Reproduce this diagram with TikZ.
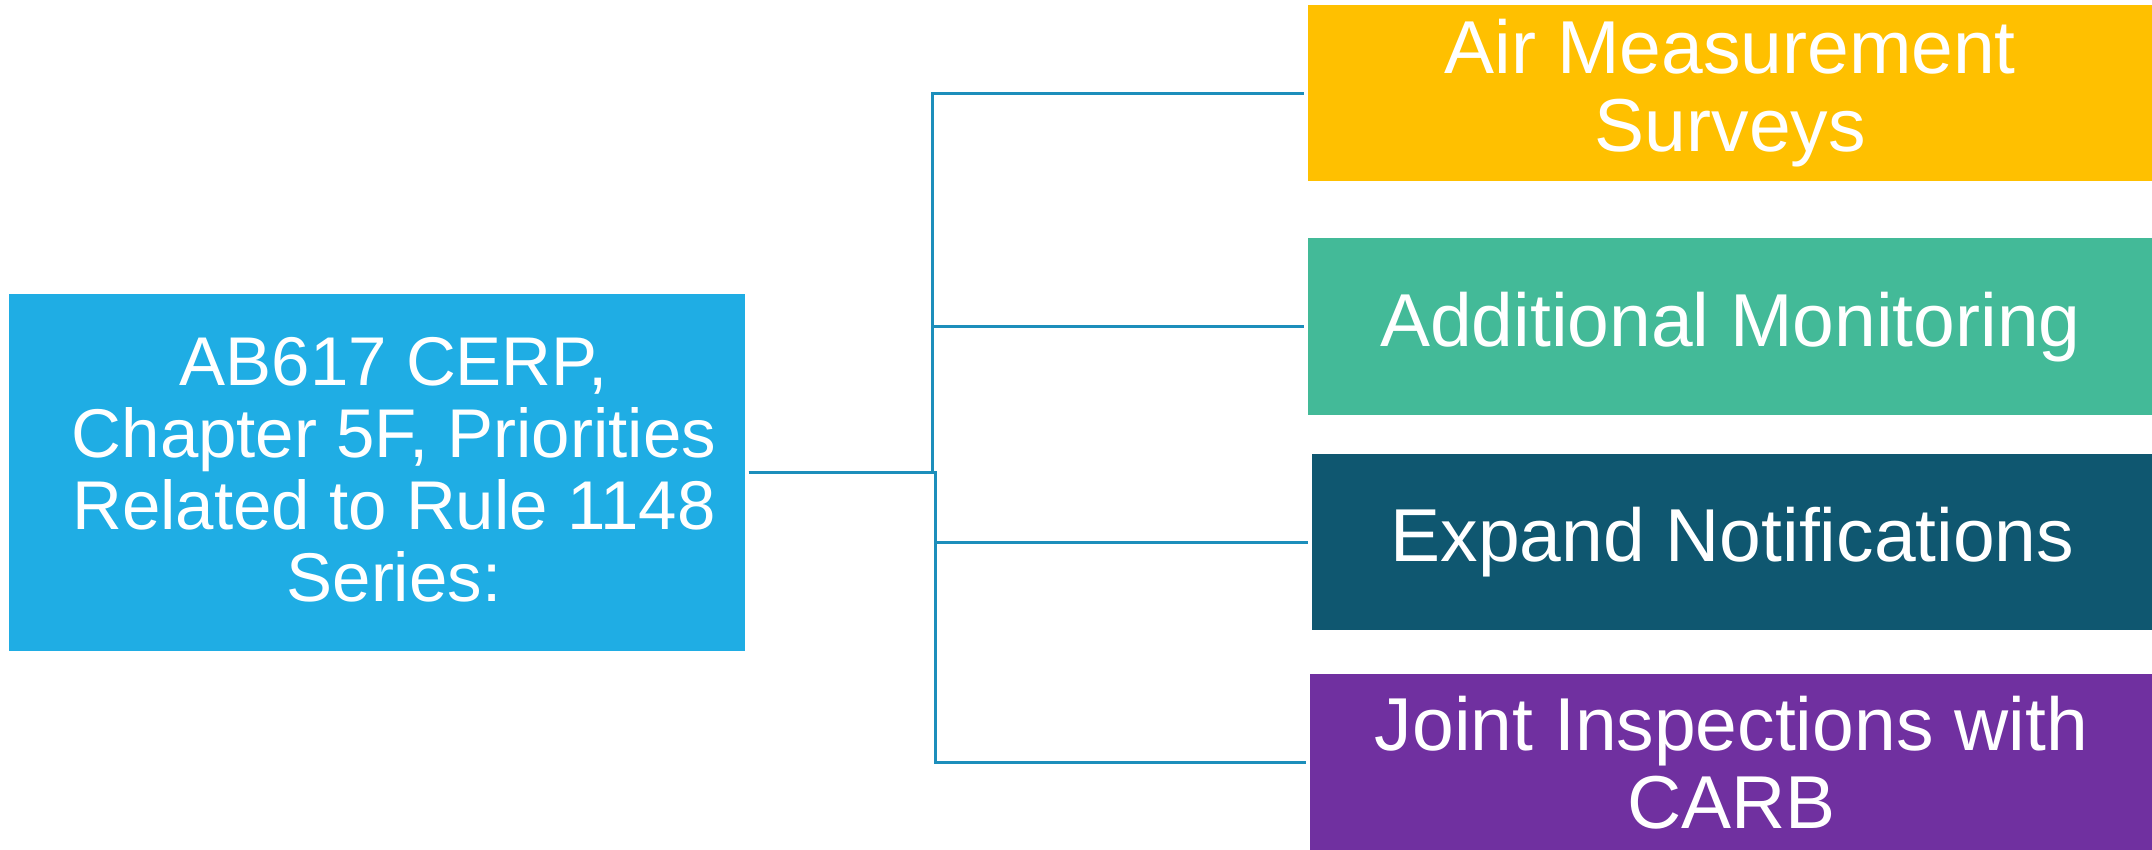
\documentclass[tikz,border=0pt]{standalone}
\usepackage{fontspec}
\setmainfont{Liberation Sans}
\definecolor{cerpblue}{RGB}{31,173,228}
\definecolor{boxyellow}{RGB}{255,192,0}
\definecolor{boxgreen}{RGB}{67,186,152}
\definecolor{boxteal}{RGB}{15,87,112}
\definecolor{boxpurple}{RGB}{112,48,160}
\definecolor{lineblue}{RGB}{28,142,187}
\begin{document}
\begin{tikzpicture}[x=0.5pt,y=-0.5pt,
  box/.style={draw=none, inner sep=0pt, anchor=north west, text=white, align=center,
    font=\fontsize{37.5}{39}\selectfont},
  conn/.style={draw=lineblue, line width=1.5pt, shorten <=1.5pt, shorten >=2pt}]
\useasboundingbox (0,0) rectangle (2152,850);
\node[box, fill=cerpblue, minimum width=368pt, minimum height=178.5pt] (L) at (9,294) {};
\node[text=white, align=center, inner sep=0pt, font=\fontsize{34.5}{36}\selectfont] (Lt) at (394,470)
  {AB617 CERP,\\Chapter 5F, Priorities\\Related to Rule 1148\\Series:};
\node[box, fill=boxyellow, minimum width=422pt, minimum height=88pt] (A) at (1308,5)
  {Air Measurement\\Surveys};
\node[box, fill=boxgreen, minimum width=422pt, minimum height=88.5pt] (B) at (1308,238)
  {Additional Monitoring};
\node[box, fill=boxteal, minimum width=420pt, minimum height=88pt] (C) at (1312,454)
  {Expand Notifications};
\node[box, fill=boxpurple, minimum width=421pt, minimum height=88pt] (D) at (1310,674)
  {Joint Inspections with\\CARB};
\coordinate (ea) at (932,0);
\coordinate (eb) at (935,0);
\draw[conn] (L.east) -| (ea |- A.west) -- (A.west);
\draw[conn] (L.east) -| (ea |- B.west) -- (B.west);
\draw[conn] (L.east) -| (eb |- C.west) -- (C.west);
\draw[conn] (L.east) -| (eb |- D.west) -- (D.west);
\end{tikzpicture}
\end{document}
